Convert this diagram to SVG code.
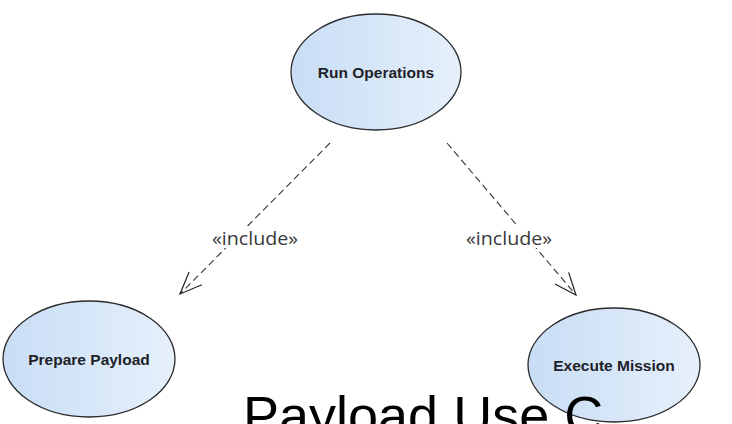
<svg xmlns="http://www.w3.org/2000/svg" width="732" height="424" viewBox="0 0 732 424">
<defs>
<linearGradient id="uc" x1="0" y1="0" x2="1" y2="0">
<stop offset="0" stop-color="#c8ddf5"/>
<stop offset="1" stop-color="#e6f0fb"/>
</linearGradient>
<marker id="open" viewBox="0 0 24 24" refX="23" refY="12" markerWidth="24" markerHeight="24" markerUnits="userSpaceOnUse" orient="auto">
<path d="M1,3 L23,12 L1,21" fill="none" stroke="#222" stroke-width="1.2"/>
</marker>
<style>
.node ellipse{fill:url(#uc);stroke:#2a2a2a;stroke-width:1.3}
.node text{font-family:"Liberation Sans",Arial,sans-serif;font-weight:bold;font-size:15.5px;fill:#1e2228;text-anchor:middle}
.edge{fill:none;stroke:#333;stroke-width:1.1;stroke-dasharray:7,4}
.lbl{font-family:"Open Sans","Liberation Sans",Arial,sans-serif;font-size:18px;fill:#3a3a3a;text-anchor:middle}
.title{font-family:"Liberation Sans",Arial,sans-serif;font-size:54px;fill:#000}
</style>
</defs>
<rect width="732" height="424" fill="#fff"/>
<g id="connectors">
<line class="edge" x1="330" y1="143" x2="180" y2="294" marker-end="url(#open)"/>
<line class="edge" x1="447" y1="143" x2="576" y2="295" marker-end="url(#open)"/>
<rect x="206" y="226" width="98" height="22" fill="#fff"/>
<text class="lbl" x="255" y="245" textLength="86" lengthAdjust="spacingAndGlyphs">«include»</text>
<rect x="460" y="226" width="98" height="22" fill="#fff"/>
<text class="lbl" x="509" y="245" textLength="86" lengthAdjust="spacingAndGlyphs">«include»</text>
</g>
<g id="run-operations" class="node">
<ellipse cx="376" cy="72" rx="85" ry="58"/>
<text x="376" y="78">Run Operations</text>
</g>
<g id="prepare-payload" class="node">
<ellipse cx="89" cy="359" rx="86" ry="58"/>
<text x="89" y="365">Prepare Payload</text>
</g>
<g id="execute-mission" class="node">
<ellipse cx="614" cy="365" rx="86" ry="57"/>
<text x="614" y="371">Execute Mission</text>
</g>
<text class="title" x="243" y="434">Payload Use C</text>
</svg>
